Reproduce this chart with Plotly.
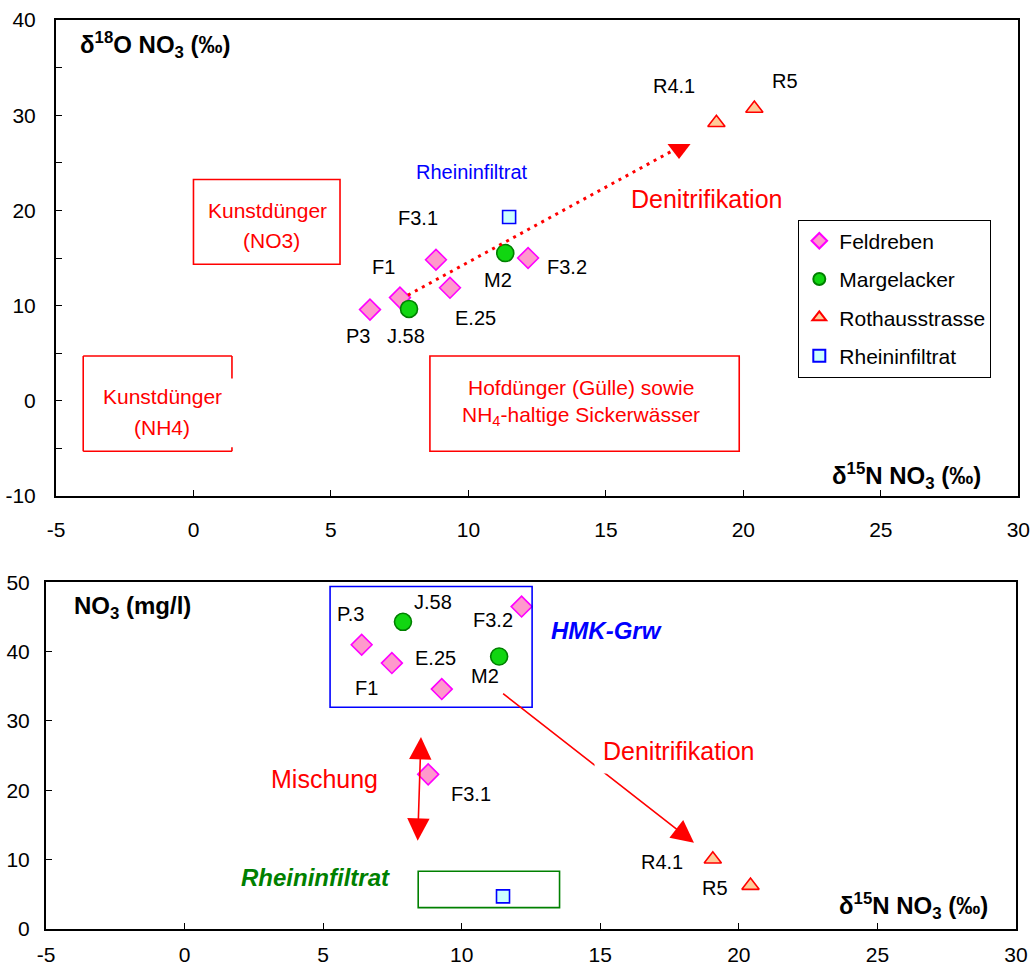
import plotly.graph_objects as go

# ---------------- data: top chart (d15N vs d18O) ----------------
feld_names = ["P3", "F1", "F3.1", "E.25", "F3.2"]
feld_n15 = [6.42, 7.51, 8.82, 9.33, 12.17]
feld_o18 = [9.58, 10.84, 14.82, 11.87, 15.0]
marg_names = ["J.58", "M2"]
marg_n15 = [7.84, 11.34]
marg_o18 = [9.65, 15.52]
roth_names = ["R4.1", "R5"]
roth_n15 = [19.02, 20.40]
roth_o18 = [29.2, 30.7]
rhein_n15 = [11.48]
rhein_o18 = [19.3]

# tick labels
x_ticks = [-5, 0, 5, 10, 15, 20, 25, 30]
x_ticktext = ["-5", "0", "5", "10", "15", "20", "25", "30"]
y_ticks_top = [-10, 0, 10, 20, 30, 40]
y_ticktext_top = ["-10", "0", "10", "20", "30", "40"]
y_ticks_bot = [0, 10, 20, 30, 40, 50]
y_ticktext_bot = ["0", "10", "20", "30", "40", "50"]

# label positions (top)
top_lab_text = ["P3", "J.58", "F1", "F3.1", "E.25", "M2", "F3.2", "R4.1", "R5"]
top_lab_x = [5.97, 7.73, 6.91, 8.18, 10.24, 11.07, 13.59, 17.47, 21.53]
top_lab_y = [6.76, 6.76, 14.1, 19.16, 8.68, 12.65, 14.1, 33.07, 33.57]

# denitrification trend (top)
denit_top_x = [7.80, 17.38]
denit_top_y = [11.1, 26.2]
denit_head_x = [17.66]
denit_head_y = [26.45]

# source boxes (top)
box_no3_x = [0.0, 5.33]
box_no3_y = [14.35, 23.24]
box_nh4_x = [-4.01, 1.40]
box_nh4_y = [-5.3, 4.71]
box_nh4_gap_y = [-4.87, 2.35]
box_hof_x = [8.6, 19.85]
box_hof_y = [-5.3, 4.71]

# ---------------- data: bottom chart (d15N vs NO3) ----------------
feld_n15_b = [6.39, 7.48, 8.79, 9.28, 12.16]
feld_no3 = [41.0, 38.35, 22.3, 34.6, 46.5]
marg_n15_b = [7.88, 11.35]
marg_no3 = [44.3, 39.3]
roth_n15_b = [19.06, 20.42]
roth_no3 = [10.05, 6.26]
rhein_n15_b = [11.49]
rhein_no3 = [4.7]

bot_lab_text = ["P.3", "J.58", "F3.2", "E.25", "M2", "F1", "F3.1", "R4.1", "R5"]
bot_lab_x = [5.99, 8.98, 11.13, 9.05, 10.85, 6.58, 10.35, 17.22, 19.14]
bot_lab_y = [45.5, 47.2, 44.6, 39.1, 36.5, 34.7, 19.5, 9.7, 5.87]

hmk_box_x = [5.25, 12.54]
hmk_box_y = [31.99, 49.4]
rh_box_x = [8.43, 13.53]
rh_box_y = [3.08, 8.33]
misch_x = [8.41, 8.53]
misch_y = [12.5, 27.7]
denit_bot_x = [11.44, 18.38]
denit_bot_y = [34.1, 12.45]

FONT = "Liberation Sans, Arial, sans-serif"
RED = "#FF0000"

fig = go.Figure()

def add_series(x, y, name, symbol, size, fill, edge, xa, ya, show):
    fig.add_trace(go.Scatter(
        x=x, y=y, mode="markers", name=name, legendgroup=name,
        showlegend=show, xaxis=xa, yaxis=ya,
        marker=dict(symbol=symbol, size=size, color=fill,
                    line=dict(color=edge, width=1.6)),
        hoverinfo="x+y+name"))

# top chart
add_series(feld_n15, feld_o18, "Feldreben", "diamond", 16, "#FF99CC", "#FF00FF", "x", "y", True)
add_series(marg_n15, marg_o18, "Margelacker", "circle", 17, "#11D611", "#008000", "x", "y", True)
add_series(roth_n15, roth_o18, "Rothausstrasse", "triangle-up", 15, "#FFCC99", RED, "x", "y", True)
add_series(rhein_n15, rhein_o18, "Rheininfiltrat", "square", 13, "#CCFFFF", "#0000FF", "x", "y", True)

fig.add_trace(go.Scatter(x=denit_top_x, y=denit_top_y, mode="lines", showlegend=False,
                         line=dict(color=RED, width=3, dash="3px,5px"),
                         xaxis="x", yaxis="y", hoverinfo="skip"))
fig.add_trace(go.Scatter(x=denit_head_x, y=denit_head_y, mode="markers", showlegend=False,
                         marker=dict(symbol="triangle-down", size=20, color=RED),
                         xaxis="x", yaxis="y", hoverinfo="skip"))

# bottom chart
add_series(feld_n15_b, feld_no3, "Feldreben", "diamond", 16, "#FF99CC", "#FF00FF", "x2", "y2", False)
add_series(marg_n15_b, marg_no3, "Margelacker", "circle", 17, "#11D611", "#008000", "x2", "y2", False)
add_series(roth_n15_b, roth_no3, "Rothausstrasse", "triangle-up", 15, "#FFCC99", RED, "x2", "y2", False)
add_series(rhein_n15_b, rhein_no3, "Rheininfiltrat", "square", 13, "#CCFFFF", "#0000FF", "x2", "y2", False)

shapes = []
def rect(xr, yr, color, xref, yref, w=1.6):
    shapes.append(dict(type="rect", xref=xref, yref=yref, x0=xr[0], x1=xr[1],
                       y0=yr[0], y1=yr[1], line=dict(color=color, width=w)))
def seg(x0, y0, x1, y1, color, xref, yref, w=1.6):
    shapes.append(dict(type="line", xref=xref, yref=yref, x0=x0, x1=x1,
                       y0=y0, y1=y1, line=dict(color=color, width=w)))

rect(box_no3_x, box_no3_y, RED, "x", "y")
rect(box_hof_x, box_hof_y, RED, "x", "y")
# NH4 box with interrupted right edge
seg(box_nh4_x[0], box_nh4_y[1], box_nh4_x[1], box_nh4_y[1], RED, "x", "y")
seg(box_nh4_x[0], box_nh4_y[0], box_nh4_x[1], box_nh4_y[0], RED, "x", "y")
seg(box_nh4_x[0], box_nh4_y[0], box_nh4_x[0], box_nh4_y[1], RED, "x", "y")
seg(box_nh4_x[1], box_nh4_gap_y[1], box_nh4_x[1], box_nh4_y[1], RED, "x", "y")
seg(box_nh4_x[1], box_nh4_y[0], box_nh4_x[1], box_nh4_gap_y[0], RED, "x", "y")

rect(hmk_box_x, hmk_box_y, "#0000FF", "x2", "y2")
rect(rh_box_x, rh_box_y, "#008000", "x2", "y2")

ann = []
def txt(x, y, text, xref, yref, size=20, color="black", xanchor="center", **kw):
    ann.append(dict(x=x, y=y, xref=xref, yref=yref, text=text, showarrow=False,
                    xanchor=xanchor, yanchor="middle",
                    font=dict(family=FONT, size=size, color=color), **kw))

for t, x, y in zip(top_lab_text, top_lab_x, top_lab_y):
    txt(x, y, t, "x", "y")
txt(10.12, 24.03, "Rheininfiltrat", "x", "y", color="#0000FF")
txt(18.66, 21.2, "Denitrifikation", "x", "y", size=25, color=RED)
txt(2.70, 19.99, "Kunstdünger", "x", "y", size=21, color=RED)
txt(2.82, 16.81, "(NO3)", "x", "y", size=21, color=RED)
txt(-1.14, 0.47, "Kunstdünger", "x", "y", size=21, color=RED)
txt(-1.14, -2.82, "(NH4)", "x", "y", size=21, color=RED)
txt(14.11, 1.38, "Hofdünger (Gülle) sowie", "x", "y", size=21, color=RED)
txt(14.11, -1.61, "NH<sub>4</sub>-haltige Sickerwässer", "x", "y", size=21, color=RED)
txt(-4.21, 37.4, "<b>δ<sup>18</sup>O NO<sub>3</sub> (‰)</b>", "x", "y", size=24, xanchor="left")
txt(28.72, -7.94, "<b>δ<sup>15</sup>N NO<sub>3</sub> (‰)</b>", "x", "y", size=24, xanchor="right")

# bottom arrows
ann.append(dict(x=denit_bot_x[1], y=denit_bot_y[1], ax=denit_bot_x[0], ay=denit_bot_y[0],
                xref="x2", yref="y2", axref="x2", ayref="y2", text="", showarrow=True,
                arrowhead=2, arrowsize=2.8, arrowwidth=1.6, arrowcolor=RED))
ann.append(dict(x=misch_x[1], y=misch_y[1], ax=misch_x[0], ay=misch_y[0],
                xref="x2", yref="y2", axref="x2", ayref="y2", text="", showarrow=True,
                arrowhead=2, startarrowhead=2, arrowside="end+start",
                arrowsize=2.8, startarrowsize=2.8, arrowwidth=1.6, arrowcolor=RED))

for t, x, y in zip(bot_lab_text, bot_lab_x, bot_lab_y):
    txt(x, y, t, "x2", "y2")
txt(17.82, 25.7, "Denitrifikation", "x2", "y2", size=25, color=RED, bgcolor="white", borderpad=8)
txt(5.04, 21.6, "Mischung", "x2", "y2", size=25, color=RED)
txt(15.22, 43.0, "<b><i>HMK-Grw</i></b>", "x2", "y2", size=24, color="#0000FF")
txt(4.73, 7.5, "<b><i>Rheininfiltrat</i></b>", "x2", "y2", size=24, color="#008000")
txt(-4.05, 46.3, "<b>NO<sub>3</sub> (mg/l)</b>", "x2", "y2", size=24, xanchor="left")
txt(29.05, 3.37, "<b>δ<sup>15</sup>N NO<sub>3</sub> (‰)</b>", "x2", "y2", size=24, xanchor="right")

W, H = 1031, 972
axis_common = dict(showgrid=False, zeroline=False, showline=True, linecolor="black",
                   linewidth=2, mirror=True, ticks="inside", ticklen=6, tickcolor="black",
                   tickwidth=1, automargin=False, tickmode="array",
                   tickfont=dict(family=FONT, size=21, color="black"))

fig.update_layout(
    template="none",
    width=W, height=H, margin=dict(l=0, r=0, t=0, b=0, pad=0), autosize=False,
    paper_bgcolor="white", plot_bgcolor="white",
    font=dict(family=FONT, color="black"),
    hovermode="closest",
    xaxis=dict(domain=[56 / W, 1018.3 / W], anchor="y", range=[-5, 30],
               tickvals=x_ticks, ticktext=x_ticktext, ticklabelstandoff=14, **axis_common),
    yaxis=dict(domain=[1 - 496 / H, 1 - 20 / H], anchor="x", range=[-10, 40],
               tickvals=y_ticks_top, ticktext=y_ticktext_top,
               minor=dict(dtick=5, tick0=0, ticks="inside", ticklen=6, tickcolor="black", showgrid=False),
               ticklabelstandoff=14, **axis_common),
    xaxis2=dict(domain=[46 / W, 1016 / W], anchor="y2", range=[-5, 30],
                tickvals=x_ticks, ticktext=x_ticktext, ticklabelstandoff=6, **axis_common),
    yaxis2=dict(domain=[1 - 929 / H, 1 - 582.3 / H], anchor="x2", range=[0, 50],
                tickvals=y_ticks_bot, ticktext=y_ticktext_bot, ticklabelstandoff=10, **axis_common),
    legend=dict(x=798.3 / W, y=1 - 219.6 / H, xanchor="left", yanchor="top",
                bgcolor="white", bordercolor="black", borderwidth=1,
                font=dict(family=FONT, size=21, color="black"),
                tracegroupgap=8, itemsizing="constant"),
    shapes=shapes, annotations=ann,
)

fig.write_html("out.html")
